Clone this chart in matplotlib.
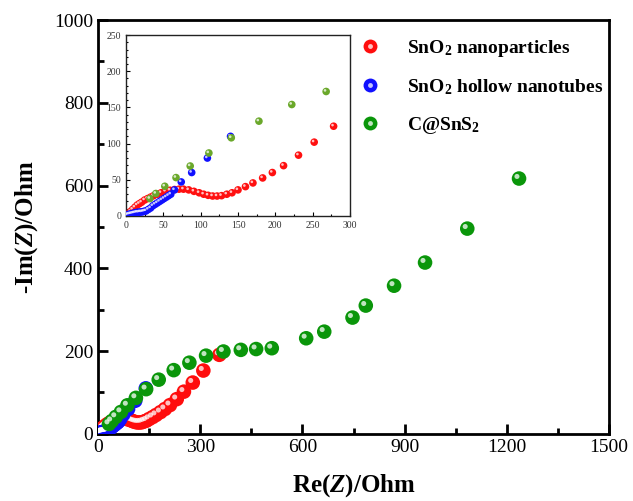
import matplotlib.pyplot as plt
from matplotlib.lines import Line2D
from matplotlib.legend_handler import HandlerTuple
from matplotlib.ticker import MultipleLocator
import matplotlib.transforms as mtransforms

plt.rcParams['font.family'] = 'Liberation Serif'
plt.rcParams['mathtext.fontset'] = 'custom'
plt.rcParams['mathtext.rm'] = 'Liberation Serif'
plt.rcParams['mathtext.bf'] = 'Liberation Serif:bold'
plt.rcParams['mathtext.it'] = 'Liberation Serif:italic'
plt.rcParams['mathtext.bfit'] = 'Liberation Serif:italic:bold'

# SnO2 nanoparticles
red_x = [1, 3, 6, 9, 12, 15, 18, 21, 25, 29, 33, 37, 42, 47, 53, 59, 65, 71, 77, 84,
         91, 98, 104, 110, 116, 122, 128, 135, 142, 150, 160, 170, 183, 196, 211, 231,
         252, 278, 309, 356]
red_y = [1, 3, 6, 9, 12, 15, 17, 19, 22, 24, 26, 28, 30, 32, 34, 35.5, 36.5, 37, 37, 36,
         34, 32, 30, 28.5, 27.5, 27.5, 28, 30, 32, 36, 40.5, 45.6, 52.5, 60, 69.5, 84,
         102, 124, 153, 191]

# SnO2 hollow nanotubes
blue_x = [1, 3, 5, 7, 9, 11, 13, 15, 17, 19, 21, 23, 25, 27, 30, 33, 36, 39, 42, 45,
          48, 51, 54, 57, 60, 65, 74, 88, 109, 140]
blue_y = [1, 2, 2.5, 3, 3.5, 4, 4.5, 5, 5, 5.5, 5.5, 6, 6.5, 7, 9, 11, 14, 16, 18, 20,
          22, 24, 26, 28, 30, 36, 47, 60, 80, 110]

# C@SnS2
green_x = [32, 40, 52, 67, 86, 111, 141, 178, 222, 268, 317, 368, 419, 464, 510, 611,
           664, 747, 786, 869, 960, 1084, 1236]
green_y = [24, 31, 41, 53, 69, 87, 108, 131, 154, 172, 189, 199, 203, 205, 207, 231,
           247, 281, 310, 358, 414, 496, 617]

labels = [r'$\mathbf{SnO_2}$ nanoparticles', r'$\mathbf{SnO_2}$ hollow nanotubes',
          r'$\mathbf{C@SnS_2}$']


def sphere(ax, x, y, color, s, off):
    fig = ax.figure
    ax.scatter(x, y, s=s, color=color, edgecolors='none', zorder=3)
    tr = mtransforms.offset_copy(ax.transData, fig=fig, x=-off, y=off, units='points')
    ax.scatter(x, y, s=s * 0.12, color='white', alpha=0.75, edgecolors='none',
               transform=tr, zorder=3)


fig = plt.figure(figsize=(6.33, 5.01), dpi=100)
ax = fig.add_axes([0.155, 0.134, 0.807, 0.826])

sphere(ax, red_x, red_y, '#ff0d0d', 110, 1.5)
sphere(ax, blue_x, blue_y, '#1010ff', 110, 1.5)
sphere(ax, green_x, green_y, '#0a960a', 110, 1.5)

ax.set_xlim(0, 1500)
ax.set_ylim(0, 1000)
ax.xaxis.set_major_locator(MultipleLocator(300))
ax.xaxis.set_minor_locator(MultipleLocator(150))
ax.yaxis.set_major_locator(MultipleLocator(200))
ax.yaxis.set_minor_locator(MultipleLocator(100))
ax.tick_params(which='both', direction='in', width=2, labelsize=14)
ax.tick_params(which='major', length=7)
ax.tick_params(which='minor', length=4)
for sp in ax.spines.values():
    sp.set_linewidth(2)
ax.set_xlabel(r'$\mathbf{Re(}\mathbfit{Z}\mathbf{)/Ohm}$', fontsize=18, labelpad=12)
ax.set_ylabel(r'$\mathbf{\text{-}Im(}\mathbfit{Z}\mathbf{)/Ohm}$', fontsize=18, labelpad=10)

handles = []
for c in ['#ff0d0d', '#1010ff', '#0a960a']:
    h1 = Line2D([], [], ls='none', marker='o', ms=10, mfc=c, mec='none')
    h2 = Line2D([], [], ls='none', marker='o', ms=3.5, mfc='white', mec='none', alpha=0.75)
    handles.append((h1, h2))
ax.legend(handles, labels, loc='upper left', bbox_to_anchor=(0.46, 1.0), frameon=False,
          prop={'weight': 'bold', 'size': 14}, labelspacing=0.95, handletextpad=0.9,
          handler_map={tuple: HandlerTuple(ndivide=1)})

# inset
ins = fig.add_axes([0.199, 0.569, 0.354, 0.361])
sphere(ins, red_x, red_y, '#ff1010', 30, 0.8)
sphere(ins, blue_x, blue_y, '#1010ff', 30, 0.8)
sphere(ins, green_x, green_y, '#6aa82a', 30, 0.8)
ins.set_xlim(0, 300)
ins.set_ylim(0, 250)
ins.xaxis.set_major_locator(MultipleLocator(50))
ins.xaxis.set_minor_locator(MultipleLocator(25))
ins.yaxis.set_major_locator(MultipleLocator(50))
ins.yaxis.set_minor_locator(MultipleLocator(10))
ins.tick_params(which='both', direction='in', labelsize=7, width=0.8,
                labelcolor='#333333')
ins.tick_params(which='major', length=3)
ins.tick_params(which='minor', length=1.5)
for sp in ins.spines.values():
    sp.set_linewidth(1)
    sp.set_color('#222222')

fig.savefig('out.png', dpi=100)
